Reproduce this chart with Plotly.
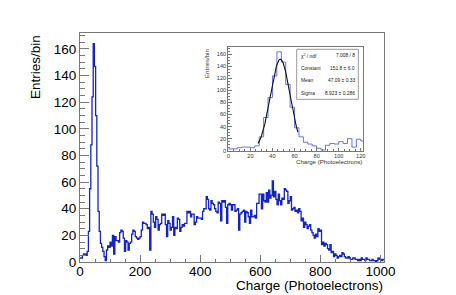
import numpy as np
import plotly.graph_objects as go

W, H = 456, 295

# ---- data ----
bin_width = 4.0  # Photoelectrons per bin
entries = [
    3, 3, 5, 6, 6, 5, 8, 23, 55, 88,
    124, 164, 147, 110, 72, 38, 23, 14, 11, 8,
    4, 1, 9, 12, 11, 15, 12, 20, 6, 19,
    16, 16, 15, 22, 24, 23, 18, 8, 16, 15,
    9, 14, 15, 21, 24, 23, 19, 18, 17, 18,
    19, 24, 30, 29, 29, 28, 25, 26, 9, 38,
    36, 30, 26, 34, 32, 24, 28, 29, 36, 35,
    36, 28, 19, 31, 29, 24, 26, 34, 20, 26,
    25, 33, 32, 23, 26, 28, 27, 29, 29, 38,
    37, 38, 34, 36, 36, 28, 30, 34, 33, 33,
    33, 32, 38, 40, 40, 49, 47, 40, 39, 46,
    44, 43, 40, 38, 37, 45, 44, 31, 46, 45,
    46, 41, 29, 43, 44, 43, 39, 43, 43, 38,
    39, 40, 24, 36, 37, 38, 39, 30, 38, 37,
    34, 29, 39, 34, 34, 35, 33, 44, 44, 51,
    51, 40, 51, 46, 45, 52, 45, 54, 48, 50,
    61, 49, 53, 47, 43, 51, 46, 43, 48, 47,
    55, 54, 53, 44, 46, 49, 39, 40, 41, 38,
    39, 37, 40, 38, 31, 33, 26, 30, 28, 25,
    27, 28, 24, 22, 20, 18, 21, 19, 25, 23,
    24, 13, 15, 12, 14, 13, 10, 9, 13, 7,
    8, 4, 6, 5, 3, 4, 5, 4, 7, 6,
    4, 3, 3, 4, 3, 2, 2, 3, 3, 2,
    2, 1, 2, 1, 3, 2, 2, 1, 3, 2,
    2, 1, 1, 2, 1, 1, 0, 1, 3, 2,
    2, 1, 2,
]

fit_constant = 151.8
fit_mean = 47.09
fit_sigma = 8.923
fit_range = (27.0, 63.0)

stat_labels = ["χ<sup>2</sup> / ndf", "Constant", "Mean", "Sigma"]
stat_values = ["7.008 / 8", "151.8 ± 6.0", "47.09 ± 0.33", "8.923 ± 0.286"]

main_x_ticks = [0, 200, 400, 600, 800, 1000]
main_y_ticks = [0, 20, 40, 60, 80, 100, 120, 140, 160]
inset_x_ticks = [0, 20, 40, 60, 80, 100, 120]
inset_y_ticks = [0, 20, 40, 60, 80, 100, 120, 140, 160]

# ---- build step outline ----
edges = [i * bin_width for i in range(len(entries) + 1)]
step_y = list(entries) + [entries[-1]]

fx = np.linspace(fit_range[0], fit_range[1], 120)
fy = fit_constant * np.exp(-0.5 * ((fx - fit_mean) / fit_sigma) ** 2)


def px(x):
    return x / W


def py(y):
    return 1 - y / H


FONT = "Liberation Sans, Arial, Helvetica, sans-serif"
FRAME = "#777777"

fig = go.Figure()
fig.add_trace(go.Scatter(x=edges, y=step_y, mode="lines", line_shape="hv",
                         line=dict(color="#1424c0", width=1.3),
                         xaxis="x", yaxis="y", showlegend=False, hoverinfo="skip"))
fig.add_trace(go.Scatter(x=edges, y=step_y, mode="lines", line_shape="hv",
                         line=dict(color="#5468dc", width=0.9),
                         xaxis="x2", yaxis="y2", showlegend=False, hoverinfo="skip"))
fig.add_trace(go.Scatter(x=fx, y=fy, mode="lines",
                         line=dict(color="#111111", width=1.1),
                         xaxis="x2", yaxis="y2", showlegend=False, hoverinfo="skip"))

axis_common = dict(showgrid=False, zeroline=False, showline=True, linecolor=FRAME,
                   linewidth=1, mirror=True, ticks="inside", tickcolor=FRAME)

fig.update_layout(
    width=W, height=H,
    margin=dict(l=0, r=0, t=0, b=0, autoexpand=False),
    paper_bgcolor="white", plot_bgcolor="white",
    font=dict(family=FONT, color="black"),
    xaxis=dict(**axis_common, domain=[px(80), px(384)], range=[0, 1012],
               tickvals=main_x_ticks, ticklen=7, ticklabelstandoff=-3,
               minor=dict(dtick=50, ticklen=3.5, ticks="inside", tickcolor=FRAME),
               tickfont=dict(size=13.5), anchor="y"),
    yaxis=dict(**axis_common, domain=[py(262), py(33)], range=[0, 172],
               tickvals=main_y_ticks, ticklen=9,
               minor=dict(dtick=5, ticklen=4.5, ticks="inside", tickcolor=FRAME),
               tickfont=dict(size=13.5), anchor="x"),
    xaxis2=dict(**axis_common, domain=[px(228.3), px(363)], range=[0, 122],
                tickvals=inset_x_ticks, ticklen=3,
                minor=dict(dtick=5, ticklen=1.5, ticks="inside", tickcolor=FRAME),
                tickfont=dict(size=5.6, color="#333333"), anchor="y2"),
    yaxis2=dict(**axis_common, domain=[py(150.7), py(47)], range=[0, 172],
                tickvals=inset_y_ticks, ticklen=4,
                minor=dict(dtick=5, ticklen=2, ticks="inside", tickcolor=FRAME),
                tickfont=dict(size=5.6, color="#333333"), anchor="x2"),
)

ann = []
# main axis titles
ann.append(dict(text="Charge (Photoelectrons)", xref="paper", yref="paper",
                x=px(385), y=py(285), xanchor="right", yanchor="middle",
                showarrow=False, font=dict(size=13.5)))
ann.append(dict(text="Entries/bin", xref="paper", yref="paper", textangle=-90,
                x=px(35), y=py(33), xanchor="center", yanchor="top",
                showarrow=False, font=dict(size=13.5)))
# inset axis titles
ann.append(dict(text="Charge (Photoelectrons)", xref="paper", yref="paper",
                x=px(364), y=py(161.5), xanchor="right", yanchor="middle",
                showarrow=False, font=dict(size=6.1, color="#333333")))
ann.append(dict(text="Entries/bin", xref="paper", yref="paper", textangle=-90,
                x=px(206.5), y=py(47), xanchor="center", yanchor="top",
                showarrow=False, font=dict(size=6.1, color="#333333")))

# stats box
box_l, box_r, box_t, box_b = 296.7, 358.3, 49.3, 99.3
shapes = [dict(type="rect", xref="paper", yref="paper",
               x0=px(box_l), x1=px(box_r), y0=py(box_b), y1=py(box_t),
               line=dict(color="#999999", width=1), fillcolor="white", layer="above")]
row_h = (box_b - box_t) / len(stat_labels)
for i, (lab, val) in enumerate(zip(stat_labels, stat_values)):
    yc = box_t + row_h * (i + 0.5)
    ann.append(dict(text=lab, xref="paper", yref="paper", x=px(box_l + 2.5), y=py(yc),
                    xanchor="left", yanchor="middle", showarrow=False,
                    font=dict(size=4.9, color="#222222")))
    ann.append(dict(text=val, xref="paper", yref="paper", x=px(box_r - 1.5), y=py(yc),
                    xanchor="right", yanchor="middle", showarrow=False,
                    font=dict(size=4.9, color="#222222")))

fig.update_layout(annotations=ann, shapes=shapes)
fig.write_html("out.html", config={"displayModeBar": False},
               post_script="document.body.style.margin='0';document.body.style.padding='0';")
